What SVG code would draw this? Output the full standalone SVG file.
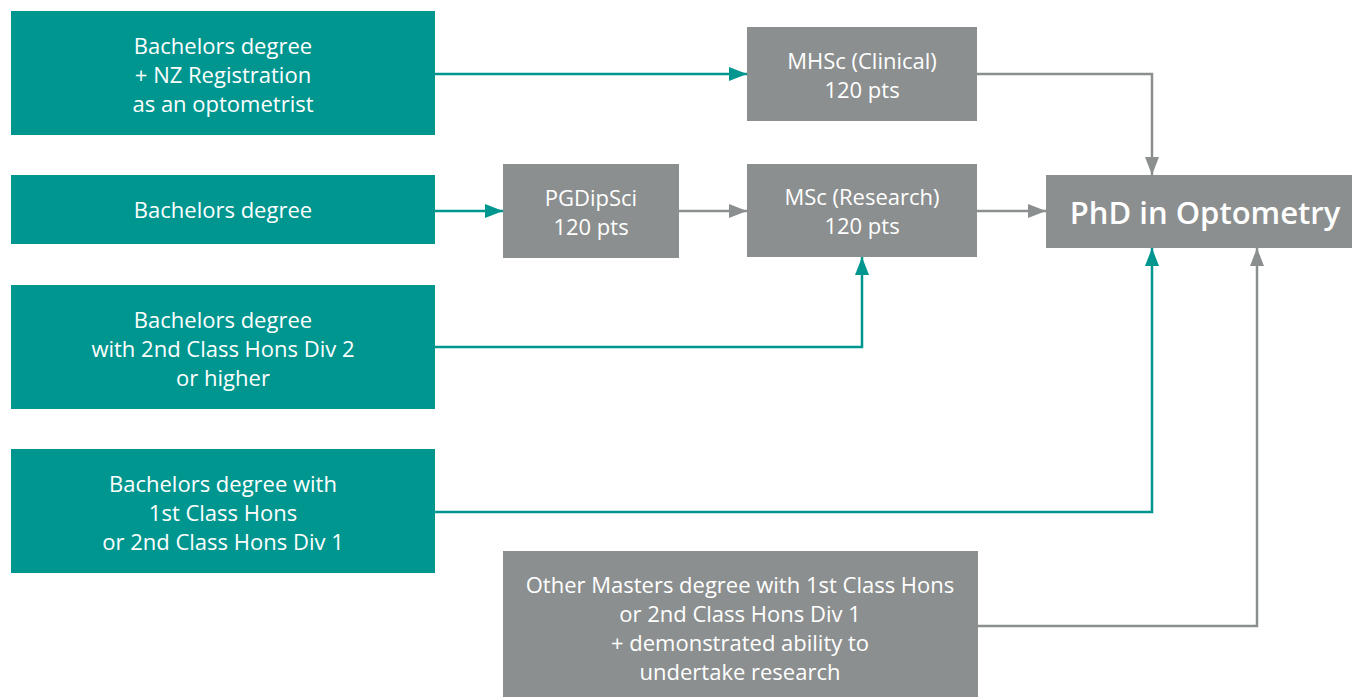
<svg xmlns="http://www.w3.org/2000/svg" width="1352" height="697" viewBox="0 0 1352 697">
<defs>
<style>
.t{fill:#009690}
.g{fill:#8c8f8f}
text{font-family:"Open Sans",Lato,"Liberation Sans",sans-serif;font-size:22px;fill:#fff;text-anchor:middle}
.big{font-size:31px;font-weight:600}
.ct{fill:none;stroke:#009690;stroke-width:2.5}
.cg{fill:none;stroke:#8c8f8f;stroke-width:2.5}
</style>
<marker id="at2" viewBox="0 0 18 14" markerWidth="18" markerHeight="14" refX="18" refY="7" orient="auto" markerUnits="userSpaceOnUse"><path d="M0,0L18,7L0,14Z" fill="#009690"/></marker>
<marker id="ag2" viewBox="0 0 18 14" markerWidth="18" markerHeight="14" refX="18" refY="7" orient="auto" markerUnits="userSpaceOnUse"><path d="M0,0L18,7L0,14Z" fill="#8c8f8f"/></marker>
</defs>
<rect width="1352" height="697" fill="#fff"/>
<g id="connectors">
<path class="ct" d="M435,74H747" marker-end="url(#at2)"/>
<path class="cg" d="M977,74H1152V175" marker-end="url(#ag2)"/>
<path class="ct" d="M435,211H503" marker-end="url(#at2)"/>
<path class="cg" d="M679,211H747" marker-end="url(#ag2)"/>
<path class="cg" d="M977,211H1046" marker-end="url(#ag2)"/>
<path class="ct" d="M435,347H862V257" marker-end="url(#at2)"/>
<path class="ct" d="M435,512H1152V248" marker-end="url(#at2)"/>
<path class="cg" d="M978,626H1257V248" marker-end="url(#ag2)"/>
</g>
<g id="n1"><rect class="t" x="11" y="11" width="424" height="124"/>
<text x="223" y="54">Bachelors degree</text><text x="223" y="83">+ NZ Registration</text><text x="223" y="112">as an optometrist</text></g>
<g id="n2"><rect class="t" x="11" y="175" width="424" height="69"/>
<text x="223" y="218">Bachelors degree</text></g>
<g id="n3"><rect class="t" x="11" y="285" width="424" height="124"/>
<text x="223" y="328">Bachelors degree</text><text x="223" y="357">with 2nd Class Hons Div 2</text><text x="223" y="386">or higher</text></g>
<g id="n4"><rect class="t" x="11" y="449" width="424" height="124"/>
<text x="223" y="492">Bachelors degree with</text><text x="223" y="521">1st Class Hons</text><text x="223" y="550">or 2nd Class Hons Div 1</text></g>
<g id="mhsc"><rect class="g" x="747" y="27" width="230" height="94"/>
<text x="862" y="69">MHSc (Clinical)</text><text x="862" y="98">120 pts</text></g>
<g id="pgdip"><rect class="g" x="503" y="164" width="176" height="94"/>
<text x="591" y="206">PGDipSci</text><text x="591" y="235">120 pts</text></g>
<g id="msc"><rect class="g" x="747" y="164" width="230" height="93"/>
<text x="862" y="205">MSc (Research)</text><text x="862" y="234">120 pts</text></g>
<g id="phd"><rect class="g" x="1046" y="175" width="306" height="73"/>
<text class="big" x="1205" y="224">PhD in Optometry</text></g>
<g id="other"><rect class="g" x="503" y="551" width="475" height="146"/>
<text x="740" y="593">Other Masters degree with 1st Class Hons</text><text x="740" y="622">or 2nd Class Hons Div 1</text><text x="740" y="651">+ demonstrated ability to</text><text x="740" y="680">undertake research</text></g>
</svg>
